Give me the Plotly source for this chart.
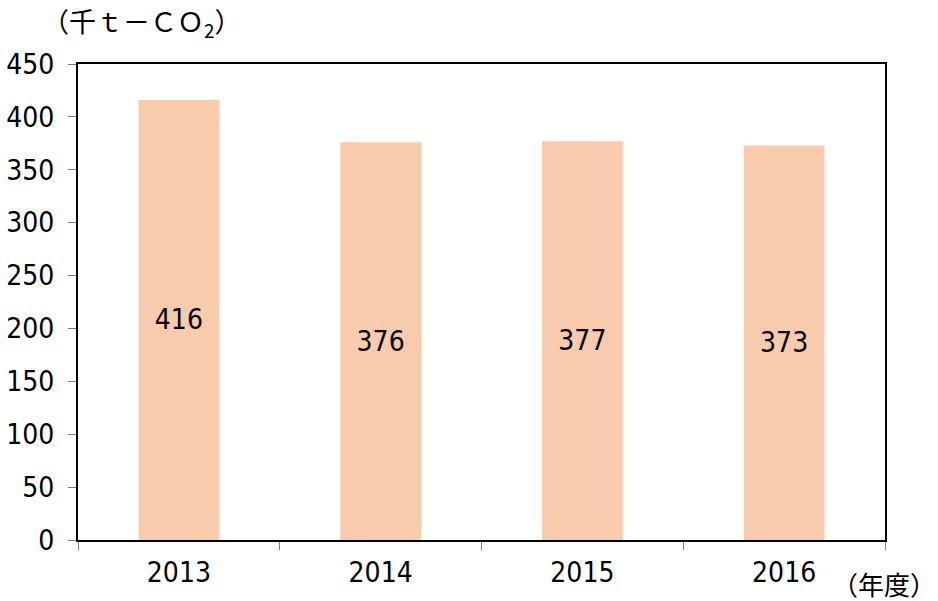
import plotly.graph_objects as go

years = ["2013", "2014", "2015", "2016"]
emissions = [416, 376, 377, 373]
y_ticks = [0, 50, 100, 150, 200, 250, 300, 350, 400, 450]

FONT = "DejaVu Sans Condensed, Roboto, sans-serif"
CJK = "Noto Sans CJK JP"

fig = go.Figure()
fig.add_trace(go.Bar(
    x=years, y=emissions, width=0.4,
    marker=dict(color="#F8CBAD", line=dict(width=0)),
    texttemplate="%{y}", textposition="inside", insidetextanchor="middle",
    textfont=dict(family=FONT, size=28, color="black"),
    cliponaxis=False,
))

fig.update_layout(
    width=938, height=601,
    margin=dict(l=78, r=53, t=64, b=61),
    paper_bgcolor="white", plot_bgcolor="white",
    showlegend=False,
    font=dict(family=FONT, size=28, color="black"),
    xaxis=dict(
        type="category", range=[-0.5, 3.5], automargin=False,
        showline=True, linecolor="black", linewidth=2, mirror=True,
        ticks="outside", tickson="boundaries", ticklen=8, tickcolor="#808080", tickwidth=1,
        showgrid=False, tickfont=dict(family=FONT, size=28), ticklabelstandoff=6,
    ),
    yaxis=dict(
        range=[0, 450], tickvals=y_ticks, automargin=False,
        showline=True, linecolor="black", linewidth=2, mirror=True,
        ticks="outside", ticklen=8, tickcolor="#808080", tickwidth=1,
        showgrid=False, zeroline=False, tickfont=dict(family=FONT, size=28),
        ticklabelstandoff=8,
    ),
    annotations=[
        dict(text="（千ｔ－ＣＯ<sub>2</sub>）", xref="paper", yref="paper",
             x=0, y=1.0, xshift=-38, yshift=42, xanchor="left", yanchor="middle",
             showarrow=False, font=dict(family=CJK, size=27, color="black")),
        dict(text="（年度）", xref="paper", yref="paper",
             x=1.0, y=0, xshift=53, yshift=-43, xanchor="right", yanchor="middle",
             showarrow=False, font=dict(family=CJK, size=26, color="black")),
    ],
)

fig.write_html("out.html")
